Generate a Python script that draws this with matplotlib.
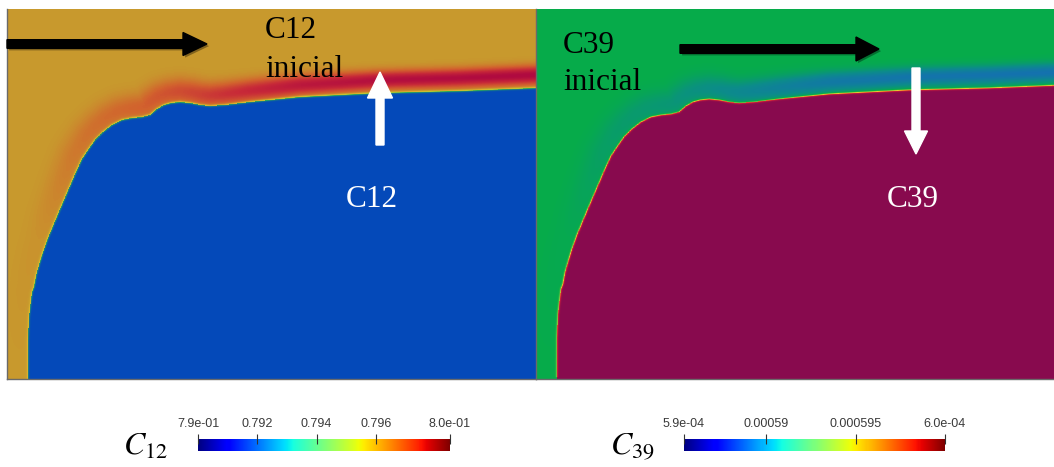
import numpy as np
import matplotlib
matplotlib.use("Agg")
import matplotlib.pyplot as plt
from matplotlib.colors import LinearSegmentedColormap, Normalize
from matplotlib.path import Path
from matplotlib.patches import FancyArrow
from matplotlib.cm import ScalarMappable
import matplotlib.patheffects as pe

plt.rcParams['mathtext.fontset'] = 'stix'

# ---------------- data ----------------
# front (interface) in panel pixel units: x to the right, y downward
front_x = [21, 21, 22, 24, 25, 27, 29, 32, 36, 41, 46, 51, 57, 63, 69, 75, 81,
           88, 96, 105, 115, 125, 135, 143, 150, 157, 164, 173, 183, 193, 203,
           218, 243, 293, 333, 373, 453, 529]
front_y = [370, 331, 308, 291, 283, 278, 267, 256, 243, 229, 217, 205, 191, 177,
           163, 150, 141, 131, 123, 116, 111, 109, 108, 106, 100, 96, 94, 93, 94,
           96, 97, 96, 93, 88, 86, 84, 82, 79]
right_shift = -3

# boundary-layer strength along the front (fraction of arc length)
t_ctrl = [0.0, 0.20, 0.33, 0.45, 0.55, 0.67, 0.80, 1.0]
amp_ctrl = [0.0, 0.05, 0.20, 0.35, 0.60, 0.85, 0.95, 1.0]
s0_ctrl = [8, 8, 9, 10, 11, 12, 13, 13]
w_ctrl = [14, 16, 16, 14, 12, 10, 9, 9]

# colour bars
c12_ticks = [0.7900, 0.792, 0.794, 0.796, 0.7985]
c12_labels = ['7.9e-01', '0.792', '0.794', '0.796', '8.0e-01']
c39_ticks = [0.0005854, 0.00059, 0.000595, 0.0006]
c39_labels = ['5.9e-04', '0.00059', '0.000595', '6.0e-04']

# panel colours
c12_colors = [(0.00, '#0449B9'), (0.30, '#2FA858'), (0.45, '#BBC832'),
              (0.56, '#DDB02E'), (0.70, '#C89B2D'), (0.80, '#D2622E'),
              (0.90, '#C82A38'), (1.00, '#B00A40')]
c39_colors = [(0.00, '#880A4E'), (0.15, '#C81E3C'), (0.28, '#E8742A'),
              (0.40, '#E8C832'), (0.52, '#7CC040'), (0.70, '#06AC4A'),
              (0.85, '#0C8C8A'), (1.00, '#1472AE')]

W, H = 1054, 467
fig = plt.figure(figsize=(W / 100, H / 100), dpi=100)


def build_field(fx, fy, width, height):
    fx = np.asarray(fx, float)
    fy = np.asarray(fy, float)
    seg = np.hypot(np.diff(fx), np.diff(fy))
    cum = np.concatenate([[0.0], np.cumsum(seg)])
    L = cum[-1]
    sd = np.arange(0, L, 1.0)
    px = np.interp(sd, cum, fx)
    py = np.interp(sd, cum, fy)
    tt = sd / L
    xs = np.arange(width) + 0.5
    ys = np.arange(height) + 0.5
    dist = np.empty((height, width))
    tnear = np.empty((height, width))
    cols = np.arange(width)
    for j, y in enumerate(ys):
        d2 = (xs[:, None] - px[None, :]) ** 2 + (y - py[None, :]) ** 2
        k = np.argmin(d2, axis=1)
        dist[j] = np.sqrt(d2[cols, k])
        tnear[j] = tt[k]
    poly = np.vstack([[[fx[0], height + 60]],
                      np.column_stack([fx, fy]),
                      [[width + 80, fy[-1]], [width + 80, height + 60]]])
    gx, gy = np.meshgrid(xs, ys)
    inside = Path(poly).contains_points(np.column_stack([gx.ravel(), gy.ravel()]))
    inside = inside.reshape(height, width)
    s = np.where(inside, -dist, dist)
    amp = np.interp(tnear, t_ctrl, amp_ctrl)
    s0 = np.interp(tnear, t_ctrl, s0_ctrl)
    w = np.interp(tnear, t_ctrl, w_ctrl)
    band = np.exp(-((s - s0) / w) ** 2)
    step = 0.5 * (1 + np.tanh(s / 1.1))
    return step * (0.7 + 0.3 * amp * band)


def panel(rect, width, cmap_colors, shift):
    ax = fig.add_axes(rect)
    height = 370
    f = build_field(front_x, np.asarray(front_y) + shift, width, height)
    cmap = LinearSegmentedColormap.from_list('c', cmap_colors)
    ax.imshow(f, cmap=cmap, vmin=0, vmax=1, extent=(0, width, height, 0),
              interpolation='bilinear', aspect='auto')
    ax.set_xlim(0, width)
    ax.set_ylim(height, 0)
    ax.set_xticks([])
    ax.set_yticks([])
    for sp in ['top', 'right']:
        ax.spines[sp].set_visible(False)
    for sp in ['left', 'bottom']:
        ax.spines[sp].set_color('#6a6a6a')
        ax.spines[sp].set_linewidth(1.0)
    return ax


panel([7 / W, 88 / H, 529 / W, 370 / H], 529, c12_colors, 0)
panel([536 / W, 88 / H, 518 / W, 370 / H], 518, c39_colors, right_shift)


def cbar(rect, vmin, vmax, ticks, labels):
    cax = fig.add_axes(rect)
    sm = ScalarMappable(norm=Normalize(vmin, vmax), cmap='jet')
    cb = fig.colorbar(sm, cax=cax, orientation='horizontal')
    cb.outline.set_visible(False)
    cb.set_ticks(ticks)
    cb.set_ticklabels(labels)
    cax.xaxis.set_ticks_position('top')
    cax.xaxis.set_label_position('top')
    cax.tick_params(axis='x', direction='inout', length=7.5, width=0.8,
                    color='#333333', labelsize=9, labelcolor='#3a3a3a', pad=2.5)
    for lab in cax.get_xticklabels():
        lab.set_fontfamily('Liberation Sans')
    return cb


cbar([198 / W, 16 / H, 252 / W, 12 / H], c12_ticks[0], c12_ticks[-1], c12_ticks, c12_labels)
cbar([684 / W, 16 / H, 261 / W, 12 / H], c39_ticks[0], c39_ticks[-1], c39_ticks, c39_labels)

# ---------------- overlay (pixel coordinates) ----------------
ov = fig.add_axes([0, 0, 1, 1], facecolor='none')
ov.set_xlim(0, W)
ov.set_ylim(H, 0)
ov.axis('off')

shadow = [pe.SimplePatchShadow(offset=(1.5, -1.5), alpha=0.35), pe.Normal()]
ov.add_patch(FancyArrow(7, 44, 200, 0, width=8.6, head_width=23, head_length=24,
                        length_includes_head=True, color='black', path_effects=shadow))
ov.add_patch(FancyArrow(680, 49, 199, 0, width=8.6, head_width=24, head_length=23,
                        length_includes_head=True, color='black', path_effects=shadow))
ov.add_patch(FancyArrow(380, 145, 0, -73, width=8, head_width=25, head_length=26,
                        length_includes_head=True, color='white'))
ov.add_patch(FancyArrow(916, 68, 0, 86, width=8, head_width=23, head_length=23,
                        length_includes_head=True, color='white'))

serif = 'Liberation Serif'
ov.text(265, 38, 'C12', fontsize=22.5, family=serif, color='black', va='baseline', ha='left')
ov.text(265, 77, 'inicial', fontsize=22.5, family=serif, color='black', va='baseline', ha='left')
ov.text(563, 53, 'C39', fontsize=22.5, family=serif, color='black', va='baseline', ha='left')
ov.text(563, 90, 'inicial', fontsize=22.5, family=serif, color='black', va='baseline', ha='left')
ov.text(346, 207, 'C12', fontsize=22.5, family=serif, color='white', va='baseline', ha='left')
ov.text(887, 207, 'C39', fontsize=22.5, family=serif, color='white', va='baseline', ha='left')

ov.text(123, 455, r'$C_{12}$', fontsize=23, color='black', va='baseline', ha='left')
ov.text(610, 455, r'$C_{39}$', fontsize=23, color='black', va='baseline', ha='left')

fig.savefig('out.png', dpi=100)
